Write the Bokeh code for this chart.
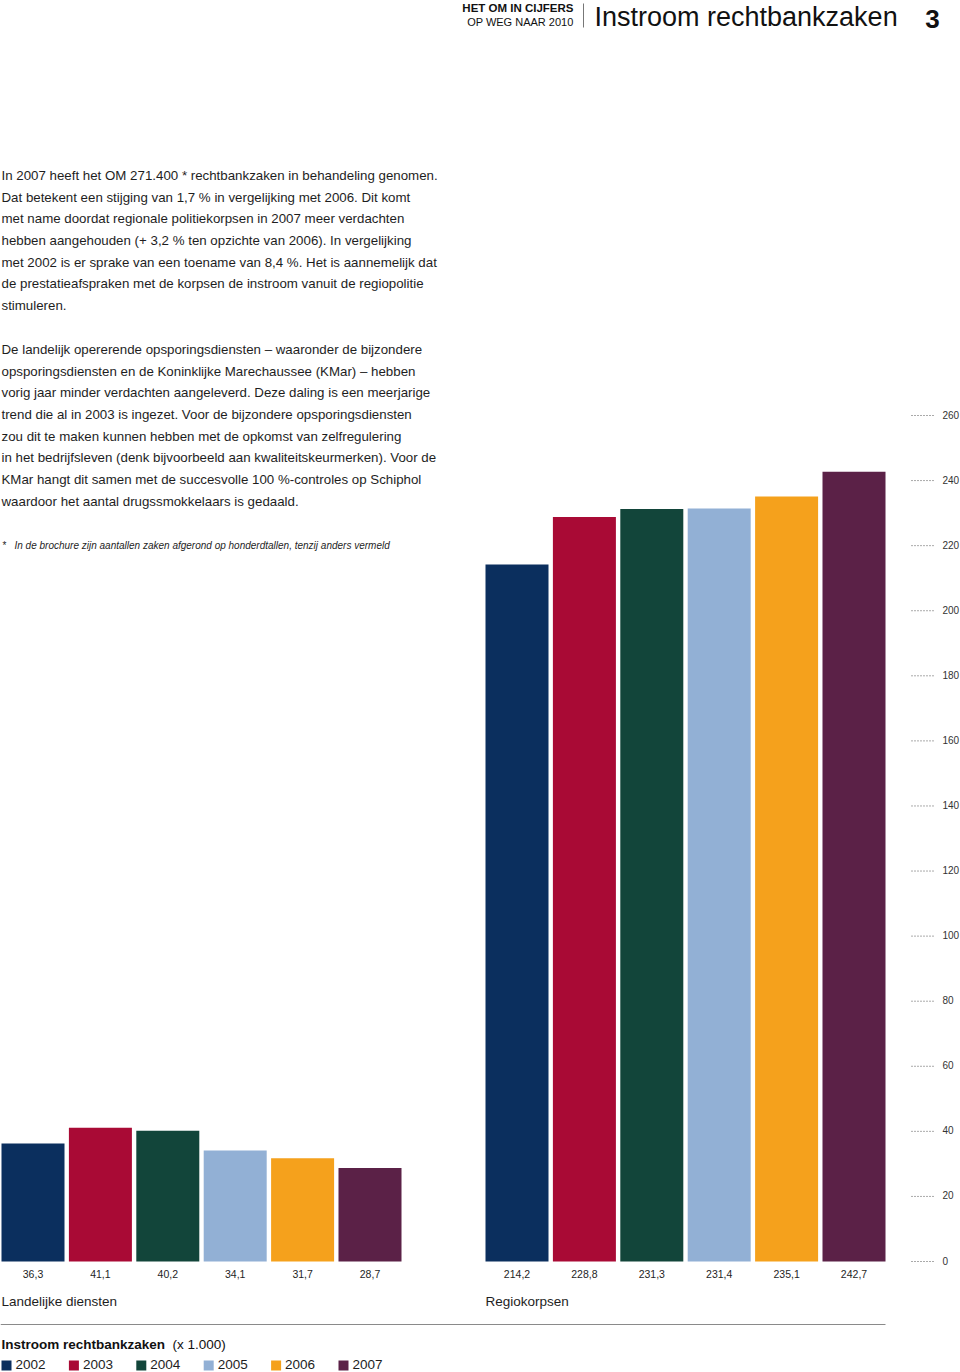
from bokeh.plotting import figure
from bokeh.models import Range1d
from bokeh.core.properties import value
from bokeh.embed import file_html
from bokeh.resources import INLINE

# ---------------- data ----------------
years = ["2002", "2003", "2004", "2005", "2006", "2007"]
landelijk = [36.3, 41.1, 40.2, 34.1, 31.7, 28.7]
regio = [214.2, 228.8, 231.3, 231.4, 235.1, 242.7]
group_names = ["Landelijke diensten", "Regiokorpsen"]
colors = ["#0B2F5E", "#A90A35", "#12453A", "#92B0D5", "#F5A11C", "#5B2147"]
ticks = list(range(0, 261, 20))
tick_labels = [str(t) for t in ticks]

header_top = "HET OM IN CIJFERS"
header_sub = "OP WEG NAAR 2010"
header_title = "Instroom rechtbankzaken"
page_no = "3"

para1 = [
    "In 2007 heeft het OM 271.400 * rechtbankzaken in behandeling genomen.",
    "Dat betekent een stijging van 1,7 % in vergelijking met 2006. Dit komt",
    "met name doordat regionale politiekorpsen in 2007 meer verdachten",
    "hebben aangehouden (+ 3,2 % ten opzichte van 2006). In vergelijking",
    "met 2002 is er sprake van een toename van 8,4 %. Het is aannemelijk dat",
    "de prestatieafspraken met de korpsen de instroom vanuit de regiopolitie",
    "stimuleren.",
]
para2 = [
    "De landelijk opererende opsporingsdiensten \u2013 waaronder de bijzondere",
    "opsporingsdiensten en de Koninklijke Marechaussee (KMar) \u2013 hebben",
    "vorig jaar minder verdachten aangeleverd. Deze daling is een meerjarige",
    "trend die al in 2003 is ingezet. Voor de bijzondere opsporingsdiensten",
    "zou dit te maken kunnen hebben met de opkomst van zelfregulering",
    "in het bedrijfsleven (denk bijvoorbeeld aan kwaliteitskeurmerken). Voor de",
    "KMar hangt dit samen met de succesvolle 100 %-controles op Schiphol",
    "waardoor het aantal drugssmokkelaars is gedaald.",
]
footnote = "In de brochure zijn aantallen zaken afgerond op honderdtallen, tenzij anders vermeld"
legend_title = "Instroom rechtbankzaken"
legend_unit = "(x 1.000)"

# ---------------- layout constants ----------------
W, H = 960, 1372          # page coordinates
BASE = 1261               # pixel of value 0
TOP_PX = 415              # pixel of value 260
K = (BASE - TOP_PX) / 260.0
FONT = value("Liberation Sans")
TXT = "#1e1e1e"

p = figure(width=W, height=H, output_backend="svg", toolbar_location=None,
           x_range=Range1d(0, W), y_range=Range1d(H, 0),
           min_border=0, outline_line_color=None)
p.extra_y_ranges = {"val": Range1d(start=-(H - BASE) / K, end=BASE / K)}
p.xaxis.visible = False
p.yaxis.visible = False
p.grid.visible = False
p.background_fill_color = "white"

# ---------------- header ----------------
p.text(x=[573], y=[7], text=[header_top], text_font=FONT, text_font_style="bold",
       text_font_size="11.5px", text_align="right", text_baseline="middle", text_color="#111")
p.text(x=[573], y=[21], text=[header_sub], text_font=FONT,
       text_font_size="11px", text_align="right", text_baseline="middle", text_color="#111")
p.segment(x0=[583], y0=[3], x1=[583], y1=[27], line_color="#777", line_width=1)
p.text(x=[594], y=[16], text=[header_title], text_font=FONT,
       text_font_size="27px", text_align="left", text_baseline="middle", text_color="#111")
p.text(x=[932], y=[18], text=[page_no], text_font=FONT, text_font_style="bold",
       text_font_size="26px", text_align="center", text_baseline="middle", text_color="#111")

# ---------------- body text ----------------
lh = 21.65
p.text(x=[1] * len(para1), y=[175 + i * lh for i in range(len(para1))], text=para1,
       text_font=FONT, text_font_size="13.3px", text_baseline="middle", text_color=TXT)
p.text(x=[1] * len(para2), y=[349 + i * lh for i in range(len(para2))], text=para2,
       text_font=FONT, text_font_size="13.3px", text_baseline="middle", text_color=TXT)
p.text(x=[2], y=[545], text=["*"], text_font=FONT, text_font_size="10px",
       text_baseline="middle", text_color=TXT)
p.text(x=[14], y=[545], text=[footnote], text_font=FONT, text_font_size="10px",
       text_font_style="italic", text_baseline="middle", text_color=TXT)

# ---------------- bars ----------------
STEP = 67.4
BW = 63
starts = [1, 485]
for g, (start, vals) in enumerate(zip(starts, [landelijk, regio])):
    xs = [start + BW / 2 + i * STEP for i in range(len(vals))]
    p.vbar(x=xs, top=vals, bottom=0, width=BW, fill_color=colors, line_color=None,
           y_range_name="val")
    labels = [f"{v:.1f}".replace(".", ",") for v in vals]
    p.text(x=xs, y=[1273] * len(vals), text=labels, text_font=FONT, text_font_size="10.5px",
           text_align="center", text_baseline="middle", text_color=TXT)
    p.text(x=[start], y=[1301], text=[group_names[g]], text_font=FONT, text_font_size="13.5px",
           text_baseline="middle", text_color=TXT)

# ---------------- right value axis (dotted leaders) ----------------
p.segment(x0=[911] * len(ticks), y0=ticks, x1=[935] * len(ticks), y1=ticks,
          line_color="#555", line_width=1, line_dash="1 2", y_range_name="val")
p.text(x=[942] * len(ticks), y=ticks, text=tick_labels, text_font=FONT, text_font_size="10px",
       text_align="left", text_baseline="middle", y_offset=-1, text_color="#333",
       y_range_name="val")

# ---------------- legend ----------------
p.segment(x0=[0], y0=[1324], x1=[885], y1=[1324], line_color="#8a8a8a", line_width=1)
p.text(x=[1], y=[1344], text=[legend_title], text_font=FONT, text_font_style="bold",
       text_font_size="13.5px", text_baseline="middle", text_color="#111")
p.text(x=[172], y=[1344], text=[legend_unit], text_font=FONT,
       text_font_size="13.5px", text_baseline="middle", text_color="#111")
lx = [1 + i * STEP for i in range(len(years))]
p.rect(x=[x + 5 for x in lx], y=[1365] * len(years), width=10, height=10,
       fill_color=colors, line_color=None)
p.text(x=[x + 14 for x in lx], y=[1364] * len(years), text=years, text_font=FONT,
       text_font_size="13.5px", text_baseline="middle", text_color=TXT)

open("out.html", "w").write(file_html(p, INLINE))
